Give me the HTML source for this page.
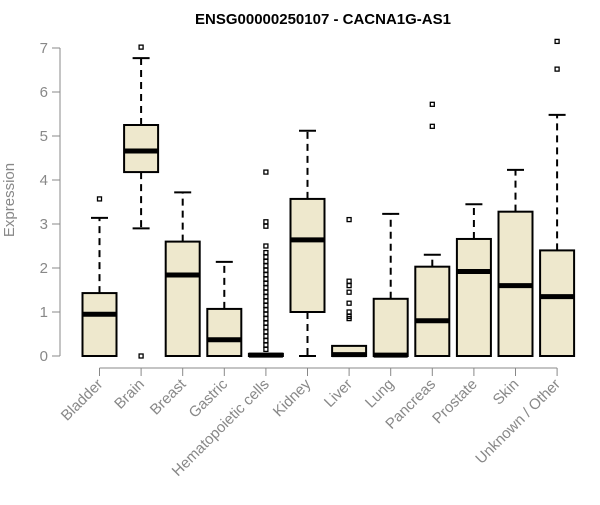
<!DOCTYPE html>
<html><head><meta charset="utf-8"><style>
body{margin:0;background:#fff;font-family:"Liberation Sans",Arial,sans-serif}
svg text{font-family:"Liberation Sans",Arial,sans-serif}
</style></head><body>
<svg id="chart" width="600" height="500" xmlns="http://www.w3.org/2000/svg">
<text x="323" y="24" text-anchor="middle" font-size="15" font-weight="bold">ENSG00000250107 - CACNA1G-AS1</text>
<text transform="translate(14,200) rotate(-90)" text-anchor="middle" font-size="15" fill="#888">Expression</text>
<g id="axes"></g><g id="boxes"></g>
</svg>
<script>
const categories=["Bladder","Brain","Breast","Gastric","Hematopoietic cells","Kidney","Liver","Lung","Pancreas","Prostate","Skin","Unknown / Other"];
const q1=[0,4.18,0,0,0,1.0,0,0,0,0,0,0];
const medians=[0.95,4.66,1.84,0.37,0.02,2.64,0.03,0.02,0.8,1.92,1.6,1.35];
const q3=[1.43,5.25,2.6,1.07,0.05,3.57,0.23,1.3,2.03,2.66,3.28,2.4];
const whiskLo=[0,2.9,0,0,0,0,0,0,0,0,0,0];
const whiskHi=[3.14,6.77,3.72,2.14,0.05,5.12,0.23,3.23,2.3,3.45,4.23,5.48];
const outliers=[[3.57],[7.02,0],[],[],[0.15,0.25,0.35,0.45,0.55,0.65,0.75,0.85,0.95,1.05,1.15,1.25,1.35,1.45,1.55,1.65,1.75,1.85,1.95,2.05,2.15,2.25,2.35,2.5,2.95,3.05,4.18],[],[0.85,0.9,1.0,1.2,1.45,1.6,1.7,3.1],[],[5.22,5.72],[],[],[6.52,7.15]];
const yTicks=[0,1,2,3,4,5,6,7];
const NS="http://www.w3.org/2000/svg";
const y=v=>356-v*44;
const x=i=>99.5+i*41.6;
const hw=17;
function mk(tag,attrs,parent){const e=document.createElementNS(NS,tag);for(const k in attrs)e.setAttribute(k,attrs[k]);parent.appendChild(e);return e;}
const ax=document.getElementById('axes'),bx=document.getElementById('boxes');
const yl=mk('line',{x1:60,x2:60,y1:y(0),y2:y(7),stroke:'#888'},ax);

const xl=mk('line',{x1:x(0),x2:x(categories.length-1),y1:368,y2:368,stroke:'#888'},ax);

yTicks.forEach(t=>{
 const l=mk('line',{x1:52,x2:60,y1:y(t),y2:y(t),stroke:'#888'},ax);
 
 const tx=mk('text',{x:48,y:y(t)+5,'text-anchor':'end','font-size':15,fill:'#888'},ax);tx.textContent=t;
 
});
categories.forEach((c,i)=>{
 const cx=x(i);
 const g=mk('g',{},bx);
 
 if(whiskHi[i]>q3[i]){
 mk('line',{x1:cx,x2:cx,y1:y(q3[i]),y2:y(whiskHi[i]),stroke:'#000','stroke-width':2,'stroke-dasharray':'7,5'},g);
 mk('line',{x1:cx-hw/2,x2:cx+hw/2,y1:y(whiskHi[i]),y2:y(whiskHi[i]),stroke:'#000','stroke-width':2},g);}
 if(whiskLo[i]<q1[i]){
 mk('line',{x1:cx,x2:cx,y1:y(q1[i]),y2:y(whiskLo[i]),stroke:'#000','stroke-width':2,'stroke-dasharray':'7,5'},g);
 mk('line',{x1:cx-hw/2,x2:cx+hw/2,y1:y(whiskLo[i]),y2:y(whiskLo[i]),stroke:'#000','stroke-width':2},g);}
 mk('rect',{x:cx-hw,y:y(q3[i]),width:hw*2,height:Math.max(y(q1[i])-y(q3[i]),0.5),fill:'#eee8cd',stroke:'#000','stroke-width':2},g);
 mk('line',{x1:cx-hw,x2:cx+hw,y1:y(medians[i]),y2:y(medians[i]),stroke:'#000','stroke-width':5},g);
 outliers[i].forEach(o=>mk('rect',{x:cx-2,y:y(o)-2,width:4,height:4,fill:'none',stroke:'#000','stroke-width':1.3},g));
 const tk=mk('line',{x1:cx,x2:cx,y1:368,y2:376,stroke:'#888'},ax);
 
 const lx=cx+4, ly=385;
 const tx=mk('text',{x:lx,y:ly,'text-anchor':'end','font-size':15,fill:'#888',transform:`rotate(-45 ${lx} ${ly})`},ax);
 tx.textContent=c;
 
});
</script>
</body></html>
